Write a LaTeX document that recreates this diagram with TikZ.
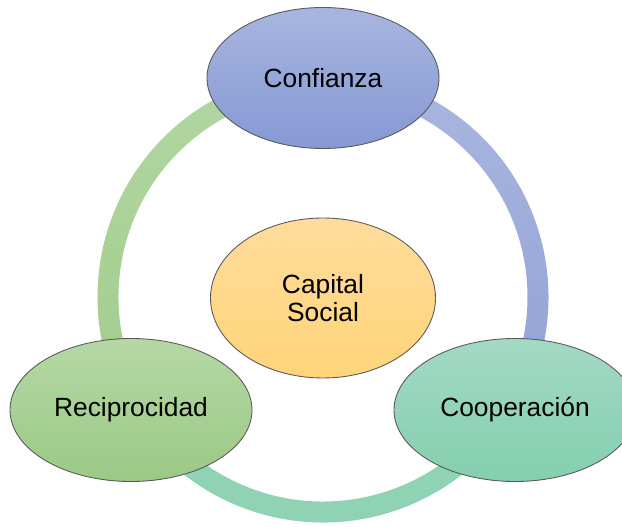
\documentclass[tikz,border=0pt]{standalone}
\usepackage{fontspec}
\setmainfont{Liberation Sans}
\usetikzlibrary{shapes.geometric}
% colores de las burbujas (arriba / abajo)
\definecolor{AzA}{RGB}{168, 181, 223}
\definecolor{AzB}{RGB}{133, 153, 212}
\definecolor{NaA}{RGB}{255, 220, 156}
\definecolor{NaB}{RGB}{255, 212, 121}
\definecolor{VeA}{RGB}{181, 216, 165}
\definecolor{VeB}{RGB}{155, 201, 133}
\definecolor{TuA}{RGB}{163, 217, 196}
\definecolor{TuB}{RGB}{132, 207, 175}
% colores del anillo
\definecolor{AnAzA}{RGB}{170, 182, 223}
\definecolor{AnAzB}{RGB}{143, 162, 214}
\definecolor{AnVeA}{RGB}{178, 214, 163}
\definecolor{AnVeB}{RGB}{160, 205, 139}
\definecolor{AnTu}{RGB}{143, 211, 180}

\tikzset{
  burbuja/.style={ellipse, draw=black!65, line width=0.5pt, inner sep=0pt,
    align=center, font=\fontsize{15}{15.5}\selectfont},
}
% tramo del anillo: angulo inicial, angulo final, color arriba, color abajo
\newcommand{\tramo}[4]{%
  \shade[top color=#3, bottom color=#4]
    (#1:4.51) arc[start angle=#1, end angle=#2, radius=4.51]
    -- (#2:4.09) arc[start angle=#2, end angle=#1, radius=4.09] -- cycle;}

\begin{document}
\begin{tikzpicture}
  \clip (-6.46,-4.60) rectangle (5.98,5.94);

  %Anillo en tres tramos
  \tramo{90}{212}{AnVeA}{AnVeB}   %izquierdo
  \tramo{-32}{90}{AnAzA}{AnAzB}   %derecho
  \tramo{208}{332}{AnTu}{AnTu}    %inferior

  %Burbujas
  \node[burbuja, top color=AzA, bottom color=AzB,
        minimum width=4.64cm, minimum height=2.82cm] (conf) at (0,4.38) {Confianza};
  \node[burbuja, top color=NaA, bottom color=NaB,
        minimum width=4.5cm, minimum height=3.2cm] (capital) at (0,-0.02) {Capital\\Social};
  \node[burbuja, top color=VeA, bottom color=VeB,
        minimum width=4.84cm, minimum height=2.86cm] (recip) at (-3.84,-2.26) {Reciprocidad};
  \node[burbuja, top color=TuA, bottom color=TuB,
        minimum width=4.84cm, minimum height=2.86cm] (coop) at (3.84,-2.26) {Cooperación};
\end{tikzpicture}
\end{document}
